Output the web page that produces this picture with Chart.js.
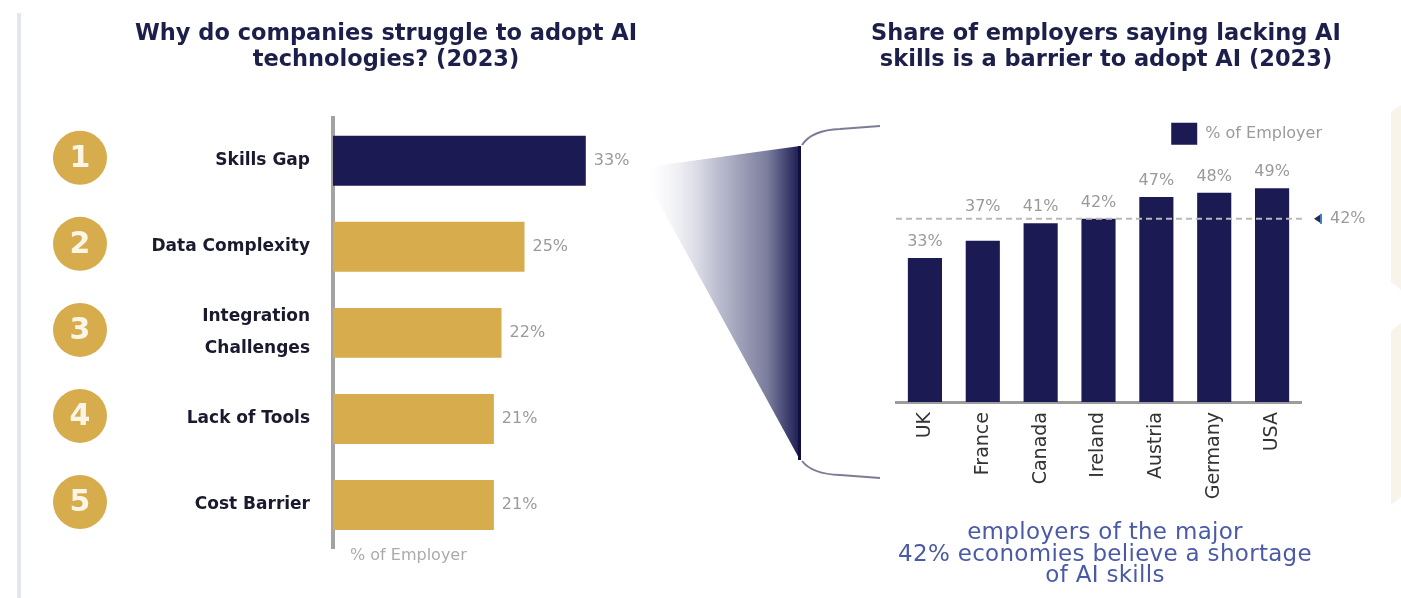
<!DOCTYPE html>
<html>
<head>
<meta charset="utf-8">
<script src="https://cdn.jsdelivr.net/npm/chart.js@4.4.0/dist/chart.umd.min.js"></script>
<style>
  html, body { margin: 0; padding: 0; background: #fff; }
  #wrap { position: relative; width: 1401px; height: 598px; overflow: hidden; font-family: "DejaVu Sans", sans-serif; }
  canvas { position: absolute; top: 0; }
  #bg { left: 0; }
  #left { left: 0; }
  #right { left: 760px; }
  #note { position: absolute; left: 835px; width: 540px; top: 521px; text-align: center; color: #4b5aa6; font-size: 23px; letter-spacing: 0.3px; line-height: 21.5px; }
</style>
</head>
<body>
<div id="wrap">
  <canvas id="bg" width="1401" height="598"></canvas>
  <canvas id="left" width="770" height="598"></canvas>
  <canvas id="right" width="641" height="598"></canvas>
  <div id="note">employers of the major<br>42% economies believe a shortage<br>of AI skills</div>
</div>
<script>
// data
var reasons = ['Skills Gap', 'Data Complexity', ['Integration', 'Challenges'], 'Lack of Tools', 'Cost Barrier'];
var reasonShare = [33, 25, 22, 21, 21];
var countries = ['UK', 'France', 'Canada', 'Ireland', 'Austria', 'Germany', 'USA'];
var countryShare = [33, 37, 41, 42, 47, 48, 49];
var averageShare = 42;
var seriesLabel = '% of Employer';

var FONT = '"DejaVu Sans", sans-serif';
var NAVY = '#1b1a53';
var GOLD = '#d6ac4c';
var GREY = '#9a9a9a';

// background decoration (funnel + brace + edges)
(function () {
  var c = document.getElementById('bg').getContext('2d');
  c.fillStyle = '#e4e7ef';
  c.fillRect(17, 13, 4, 585);

  c.fillStyle = '#f8f4ea';
  c.beginPath();
  c.moveTo(1401, 105); c.lineTo(1391, 112); c.lineTo(1391, 282); c.lineTo(1401, 290);
  c.closePath(); c.fill();
  c.beginPath();
  c.moveTo(1401, 323); c.lineTo(1391, 331); c.lineTo(1391, 505); c.lineTo(1401, 497);
  c.closePath(); c.fill();

  var g = c.createLinearGradient(640, 0, 800, 0);
  g.addColorStop(0, 'rgba(255,255,255,0)');
  g.addColorStop(0.45, '#c4c6d6');
  g.addColorStop(0.8, '#7a7c9c');
  g.addColorStop(1, NAVY);
  c.fillStyle = g;
  c.beginPath();
  c.moveTo(640, 168); c.lineTo(800, 146); c.lineTo(800, 460); c.closePath();
  c.fill();
  c.fillStyle = '#10103f';
  c.fillRect(798, 146, 3, 314);

  c.strokeStyle = '#7b7d96';
  c.lineWidth = 2;
  c.beginPath();
  c.moveTo(802, 145); c.quadraticCurveTo(812, 130, 840, 129); c.lineTo(880, 126);
  c.stroke();
  c.beginPath();
  c.moveTo(802, 461); c.quadraticCurveTo(812, 474, 840, 475); c.lineTo(880, 478);
  c.stroke();
})();

var leftExtras = {
  id: 'leftExtras',
  afterDatasetsDraw: function (chart) {
    var ctx = chart.ctx, y = chart.scales.y, meta = chart.getDatasetMeta(0);
    ctx.save();
    reasonShare.forEach(function (v, i) {
      var cy = y.getPixelForValue(i);
      ctx.fillStyle = GOLD;
      ctx.beginPath(); ctx.arc(80, cy - 3, 27, 0, Math.PI * 2); ctx.fill();
      ctx.fillStyle = '#fbf5e6';
      ctx.font = 'bold 30px ' + FONT;
      ctx.textAlign = 'center'; ctx.textBaseline = 'middle';
      ctx.fillText(String(i + 1), 80, cy - 2);

      var bar = meta.data[i];
      ctx.fillStyle = GREY;
      ctx.font = '16px ' + FONT;
      ctx.textAlign = 'left';
      ctx.fillText(v + '%', bar.x + 8, bar.y);
    });
    ctx.fillStyle = '#ababab';
    ctx.font = '16px ' + FONT;
    ctx.textAlign = 'left'; ctx.textBaseline = 'middle';
    ctx.fillText(seriesLabel, chart.chartArea.left + 17, chart.chartArea.bottom + 8);
    ctx.restore();
  }
};

new Chart(document.getElementById('left'), {
  type: 'bar',
  data: {
    labels: reasons,
    datasets: [{
      label: seriesLabel,
      data: reasonShare,
      backgroundColor: reasonShare.map(function (v, i) { return i === 0 ? NAVY : GOLD; }),
      barPercentage: 0.58,
      categoryPercentage: 1
    }]
  },
  options: {
    indexAxis: 'y',
    responsive: false,
    animation: false,
    layout: { padding: { left: 56, right: 54, bottom: 50 } },
    plugins: {
      legend: { display: false },
      tooltip: { enabled: false },
      title: {
        display: true,
        text: ['Why do companies struggle to adopt AI', 'technologies? (2023)'],
        color: '#1c1f4a',
        font: { family: FONT, size: 22.5, weight: 'bold', lineHeight: 1.15 },
        padding: { top: 21, bottom: 45 }
      }
    },
    scales: {
      x: { display: false, min: 0, max: 50 },
      y: {
        afterFit: function (s) { s.width = 277; },
        grid: { display: false },
        border: { display: true, color: '#a3a3a3', width: 4 },
        ticks: { color: '#1a1a2e', font: { family: FONT, size: 17, weight: 'bold', lineHeight: 1.9 }, padding: 15 }
      }
    }
  },
  plugins: [leftExtras]
});

var rightExtras = {
  id: 'rightExtras',
  afterDatasetsDraw: function (chart) {
    var ctx = chart.ctx, area = chart.chartArea, meta = chart.getDatasetMeta(0);
    var ly = chart.scales.y.getPixelForValue(averageShare);
    ctx.save();
    ctx.strokeStyle = '#b9b9b9';
    ctx.lineWidth = 2;
    ctx.setLineDash([6, 4]);
    ctx.beginPath(); ctx.moveTo(area.left, ly); ctx.lineTo(area.right + 2, ly); ctx.stroke();
    ctx.setLineDash([]);

    ctx.fillStyle = '#2c2a48';
    ctx.beginPath();
    ctx.moveTo(area.right + 13, ly); ctx.lineTo(area.right + 19, ly - 4); ctx.lineTo(area.right + 19, ly + 4);
    ctx.closePath(); ctx.fill();
    ctx.fillStyle = '#3d7cc9';
    ctx.fillRect(area.right + 19, ly - 5, 2, 10);

    ctx.font = '16px ' + FONT;
    ctx.textBaseline = 'middle';
    ctx.fillStyle = GREY;
    ctx.textAlign = 'left';
    ctx.fillText(averageShare + '%', area.right + 29, ly);

    ctx.textAlign = 'center';
    countryShare.forEach(function (v, i) {
      var bar = meta.data[i];
      var ty = bar.y - 16;
      if (Math.abs(ty - ly) < 10) ty = ly - 12;
      ctx.fillText(v + '%', bar.x, ty);
    });
    ctx.restore();
  }
};

new Chart(document.getElementById('right'), {
  type: 'bar',
  data: {
    labels: countries,
    datasets: [{
      label: seriesLabel,
      data: countryShare,
      backgroundColor: NAVY,
      barPercentage: 0.59,
      categoryPercentage: 1
    }]
  },
  options: {
    responsive: false,
    animation: false,
    layout: { padding: { left: 105, right: 54, bottom: 96 } },
    plugins: {
      tooltip: { enabled: false },
      title: {
        display: true,
        text: ['Share of employers saying lacking AI', 'skills is a barrier to adopt AI (2023)'],
        color: '#1c1f4a',
        font: { family: FONT, size: 22.5, weight: 'bold', lineHeight: 1.15 },
        padding: { top: 21, bottom: 25 }
      },
      legend: {
        display: true,
        position: 'top',
        align: 'end',
        labels: { boxWidth: 26, boxHeight: 22, color: GREY, font: { family: FONT, size: 16 }, padding: 25 }
      }
    },
    scales: {
      x: {
        afterFit: function (s) { s.height = 100; },
        grid: { display: false, drawTicks: false },
        border: { display: true, color: '#9c9c9c', width: 3 },
        ticks: { color: '#333', font: { family: FONT, size: 19 }, maxRotation: 90, minRotation: 90, autoSkip: false, padding: 10 }
      },
      y: {
        position: 'left',
        min: 0,
        max: 56.7,
        afterFit: function (s) { s.width = 31; },
        grid: { display: false },
        border: { display: false },
        ticks: { display: false }
      },
      gap: {
        type: 'linear',
        position: 'right',
        afterFit: function (s) { s.width = 46; },
        grid: { display: false },
        border: { display: false },
        ticks: { display: false }
      }
    }
  },
  plugins: [rightExtras]
});
</script>
</body>
</html>
